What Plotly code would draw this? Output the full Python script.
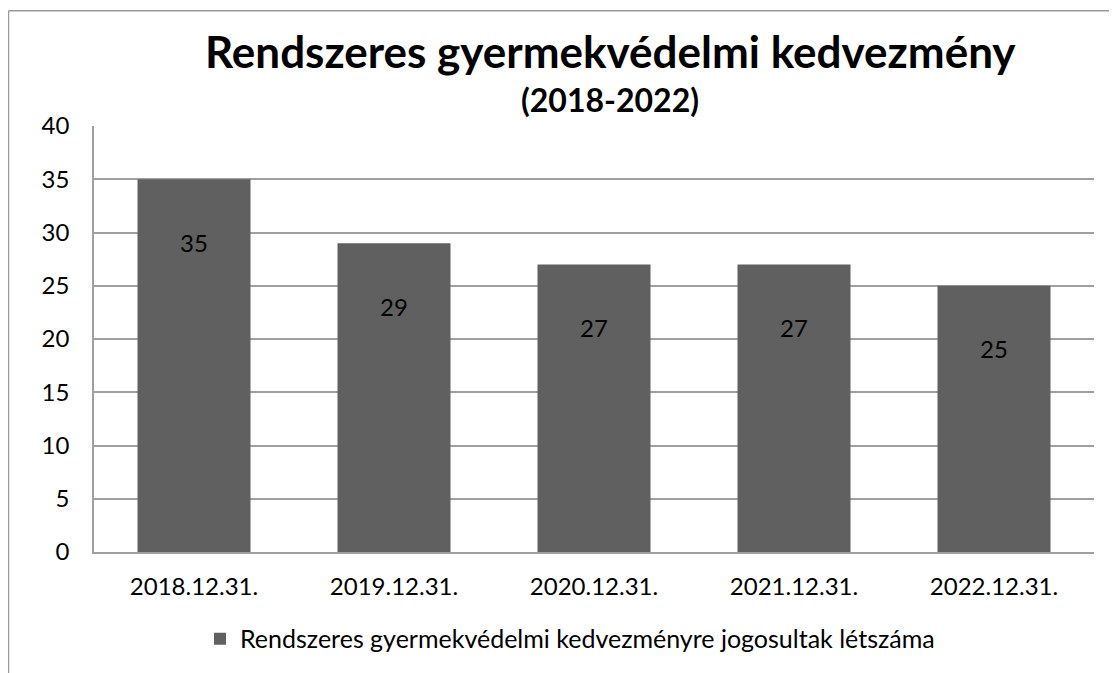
import plotly.graph_objects as go

categories = ["2018.12.31.", "2019.12.31.", "2020.12.31.", "2021.12.31.", "2022.12.31."]
values = [35, 29, 27, 27, 25]
series_name = "Rendszeres gyermekvédelmi kedvezményre jogosultak létszáma"
title_main = "Rendszeres gyermekvédelmi kedvezmény"
title_sub = "(2018-2022)"

BAR = "#606060"
GRID = "#a0a0a0"
FONT = "Lato"

fig = go.Figure()
fig.add_bar(
    x=categories,
    y=values,
    name=series_name,
    marker_color=BAR,
    marker_line_width=0,
    width=0.565,
)

# data labels sit a bit below the bar tops, like the Excel original
for c, v in zip(categories, values):
    fig.add_annotation(
        x=c, y=v, yshift=-63, text=str(v), showarrow=False,
        font={"size": 24, "color": "#000000", "family": FONT},
    )

fig.add_annotation(
    xref="paper", yref="paper", x=0.516, y=1.0, yshift=75, yanchor="middle",
    text=f"<b>{title_main}</b>", showarrow=False,
    font={"size": 44, "color": "#000000", "family": FONT},
)
fig.add_annotation(
    xref="paper", yref="paper", x=0.516, y=1.0, yshift=27, yanchor="middle",
    text=f"<b>{title_sub}</b>", showarrow=False,
    font={"size": 32, "color": "#000000", "family": FONT},
)

# outer chart border (left + top visible)
fig.add_shape(type="line", xref="paper", yref="paper",
              x0=-0.0855, x1=-0.0855, y0=1.2705, y1=-0.3, line={"color": "#9a9a9a", "width": 1.5})
fig.add_shape(type="line", xref="paper", yref="paper",
              x0=-0.0855, x1=1.03, y0=1.2705, y1=1.2705, line={"color": "#9a9a9a", "width": 1.5})

fig.update_layout(
    width=1109,
    height=665,
    margin={"l": 86, "r": 23, "t": 118, "b": 120},
    plot_bgcolor="white",
    paper_bgcolor="white",
    font={"family": FONT, "size": 24, "color": "#000000"},
    showlegend=True,
    legend={
        "orientation": "h", "x": 0.476, "xanchor": "center", "y": -0.2014, "yanchor": "middle",
        "font": {"size": 25, "family": FONT},
    },
    xaxis={
        "showgrid": False, "showline": True, "linecolor": GRID, "linewidth": 1.5,
        "ticks": "", "ticklabelstandoff": 12,
    },
    yaxis={
        "range": [0, 40], "dtick": 5, "showgrid": True, "gridcolor": GRID, "gridwidth": 1.5,
        "showline": True, "linecolor": GRID, "linewidth": 1.5, "ticks": "",
        "ticklabelstandoff": 18, "zeroline": False,
    },
)

fig.write_html("out.html")
